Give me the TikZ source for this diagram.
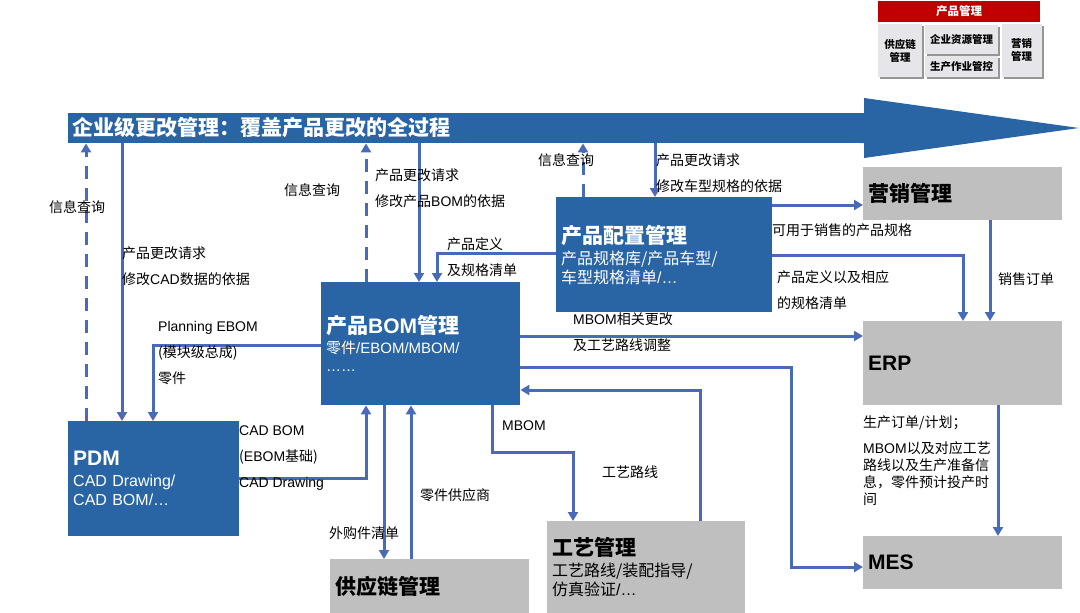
\documentclass[tikz,border=0pt]{standalone}
\usepackage{fontspec}
\setmainfont{Noto Sans CJK SC}
\newfontfamily\latfont{Liberation Sans}
\newcommand\entxt[1]{{\latfont #1}}
\usetikzlibrary{arrows.meta,shadows}
\definecolor{boxblue}{RGB}{41,101,164}
\definecolor{boxgray}{RGB}{191,191,191}
\definecolor{conncol}{RGB}{72,106,184}
\definecolor{legred}{RGB}{192,0,0}
\definecolor{leggray}{RGB}{230,230,234}
\definecolor{legshadow}{RGB}{150,150,150}
\begin{document}
\begin{tikzpicture}[x=1pt,y=-1pt,
  box/.style={inner xsep=5pt, inner ysep=0pt, align=left, anchor=north west,
    font=\fontsize{16}{19}\selectfont},
  bluebox/.style={box, fill=boxblue, text=white},
  graybox/.style={box, fill=boxgray, text=black},
  conn/.style={draw=conncol, line width=3pt, -{Triangle[length=9pt,width=10pt]}},
  dashconn/.style={conn, dash pattern=on 13pt off 9pt},
  lbl/.style={inner sep=0pt, anchor=west, align=left, font=\fontsize{14}{26}\selectfont},
  lblsm/.style={lbl, font=\fontsize{14}{17}\selectfont},
  legbox/.style={fill=leggray, inner sep=0pt, align=center,
    font=\fontsize{10.5}{13}\selectfont\bfseries,
    drop shadow={shadow xshift=2pt, shadow yshift=-2pt, fill=legshadow, opacity=1}},
]
\useasboundingbox (0,0) rectangle (1080,613);

% legend
\node[fill=legred, text=white, inner sep=0pt, minimum width=162pt, minimum height=21pt,
  font=\fontsize{11.5}{13}\selectfont\bfseries] (legt) at (959,11) {产品管理};
\node[legbox, minimum width=44pt, minimum height=53pt] (leg1) at (900,50.5) {供应链\\管理};
\node[legbox, minimum width=73pt, minimum height=29pt] (leg2) at (961.5,39) {企业资源管理};
\node[legbox, minimum width=73pt, minimum height=21pt] (leg3) at (961.5,66.5) {生产作业管控};
\node[legbox, minimum width=40pt, minimum height=53pt] (leg4) at (1021.5,50.5) {营销\\管理};

% banner
\node[fill=boxblue, anchor=north west, minimum width=796pt, minimum height=30pt, inner sep=0pt] (banner) at (68,113) {};
\fill[boxblue] (860,113) -- (864,113) -- (864,98) -- (1079,128) -- (864,158) -- (864,143) -- (860,143) -- cycle;
\node[anchor=west, text=white, inner sep=0pt, font=\fontsize{21}{24}\selectfont\bfseries] (bantext) at (72,128)
  {企业级更改管理：覆盖产品更改的全过程};

% boxes
\node[bluebox, text width=161pt, minimum height=115pt] (pdm) at (68,421)
  {{\fontsize{21}{24}\selectfont\bfseries\entxt{PDM}}\\[2pt]\entxt{CAD Drawing/}\\\entxt{CAD BOM/…}};
\node[bluebox, text width=189pt, minimum height=123pt, font=\fontsize{15}{18}\selectfont] (bom) at (321,282)
  {{\fontsize{21}{24}\selectfont\bfseries 产品\entxt{BOM}管理}\\[2pt]零件\entxt{/EBOM/MBOM/}\\\entxt{……}};
\node[bluebox, text width=206pt, minimum height=115pt] (cfg) at (556,197)
  {{\fontsize{21}{24}\selectfont\bfseries 产品配置管理}\\[2pt]产品规格库/产品车型/\\车型规格清单\entxt{/…}};
\node[graybox, text width=189pt, minimum height=54pt] (scm) at (330,559)
  {{\fontsize{21}{24}\selectfont\bfseries 供应链管理}};
\node[graybox, text width=188pt, minimum height=92pt] (proc) at (547,521)
  {{\fontsize{21}{24}\selectfont\bfseries 工艺管理}\\[2pt]工艺路线/装配指导/\\仿真验证\entxt{/…}};
\node[graybox, text width=189pt, minimum height=53pt] (mkt) at (863,167)
  {{\fontsize{21}{24}\selectfont\bfseries 营销管理}};
\node[graybox, text width=189pt, minimum height=84pt] (erp) at (863,321)
  {{\fontsize{21}{24}\selectfont\bfseries\entxt{ERP}}};
\node[graybox, text width=189pt, minimum height=53pt] (mes) at (863,536)
  {{\fontsize{21}{24}\selectfont\bfseries\entxt{MES}}};

% connectors
\draw[dashconn] (pdm.north -| 86,0) -- (banner.south -| 86,0);
\draw[conn] (banner.south -| 122,0) -- (pdm.north -| 122,0);
\draw[conn] (bom.west |- 0,345) -| (pdm.north -| 153,0);
\draw[conn] (pdm.east |- 0,478) -| (bom.south -| 366,0);
\draw[dashconn] (bom.north -| 366,0) -- (banner.south -| 366,0);
\draw[conn] (banner.south -| 419,0) -- (bom.north -| 419,0);
\draw[conn] (cfg.west |- 0,253) -| (bom.north -| 437,0);
\draw[dashconn] (cfg.north -| 583,0) -- (banner.south -| 583,0);
\draw[conn] (banner.south -| 655,0) -- (cfg.north -| 655,0);
\draw[conn] (cfg.east |- 0,205) -- (mkt.west |- 0,205);
\draw[conn] (cfg.east |- 0,255) -| (erp.north -| 963,0);
\draw[conn] (mkt.south -| 990,0) -- (erp.north -| 990,0);
\draw[conn] (bom.east |- 0,336) -- (erp.west |- 0,336);
\draw[conn] (bom.east |- 0,367) -- (791,367) |- (mes.west |- 0,567);
\draw[conn] (erp.south -| 998,0) -- (mes.north -| 998,0);
\draw[conn] (bom.south -| 384,0) -- (scm.north -| 384,0);
\draw[conn] (scm.north -| 411,0) -- (bom.south -| 411,0);
\draw[conn] (bom.south -| 492,0) -- (492,452) -| (proc.north -| 573,0);
\draw[conn] (proc.north -| 700,0) |- (bom.east |- 0,390);

% labels
\node[lbl] (l1) at (49,207) {信息查询};
\node[lbl] (l2) at (122,266.5) {产品更改请求\\修改\entxt{CAD}数据的依据};
\node[lbl] (l3) at (284,190) {信息查询};
\node[lbl] (l4) at (375,188) {产品更改请求\\修改产品\entxt{BOM}的依据};
\node[lbl] (l5) at (447,257.5) {产品定义\\及规格清单};
\node[lbl] (l6) at (538,160) {信息查询};
\node[lbl] (l7) at (656,173) {产品更改请求\\修改车型规格的依据};
\node[lbl] (l8) at (158,353.5) {\entxt{Planning EBOM}\\(模块级总成)\\零件};
\node[lbl] (l9) at (239,458.5) {\entxt{CAD BOM}\\(\entxt{EBOM}基础)\\\entxt{CAD Drawing}};
\node[lbl] (l10) at (329,533) {外购件清单};
\node[lbl] (l11) at (420,495) {零件供应商};
\node[lbl] (l12) at (502,426) {\entxt{MBOM}};
\node[lbl] (l13) at (602,472) {工艺路线};
\node[lbl] (l14) at (573,332) {\entxt{MBOM}相关更改\\及工艺路线调整};
\node[lbl] (l15) at (772,230) {可用于销售的产品规格};
\node[lbl] (l16) at (777,290.5) {产品定义以及相应\\的规格清单};
\node[lbl] (l17) at (998,279) {销售订单};
\node[lbl] (l18) at (863,423) {生产订单/计划；};
\node[lblsm] (l19) at (863,473.5) {\entxt{MBOM}以及对应工艺\\路线以及生产准备信\\息，零件预计投产时\\间};
\end{tikzpicture}
\end{document}
